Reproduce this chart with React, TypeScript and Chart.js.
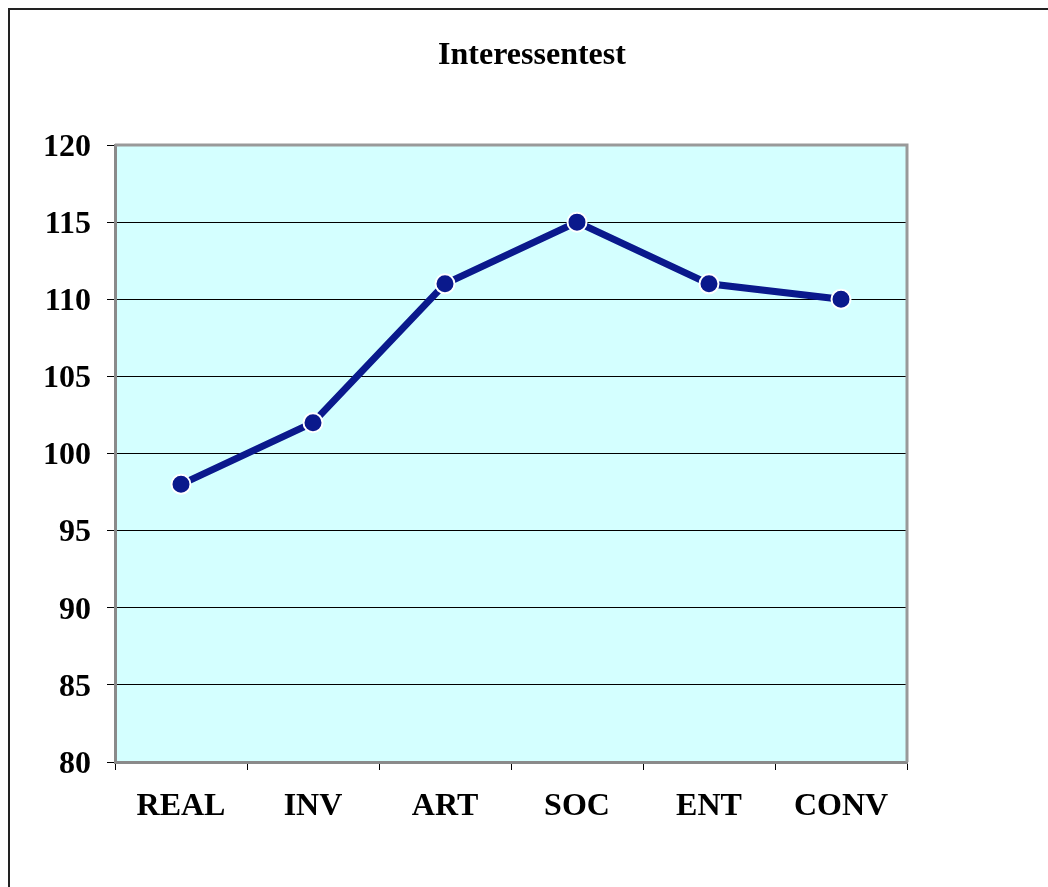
import React, { useEffect, useRef } from 'react';
import { Chart, registerables } from 'chart.js';

Chart.register(...registerables);

const categories = ['REAL', 'INV', 'ART', 'SOC', 'ENT', 'CONV'];
const values = [98, 102, 111, 115, 111, 110];
const yTickValues = [80, 85, 90, 95, 100, 105, 110, 115, 120];
const chartTitle = 'Interessentest';

const FONT = "'Liberation Serif', 'Times New Roman', serif";

export default function App() {
  const ref = useRef<HTMLCanvasElement>(null);

  useEffect(() => {
    const canvas = ref.current;
    if (!canvas) return;

    const plotArea = {
      id: 'plotArea',
      beforeDraw(chart: any) {
        const { ctx, chartArea: a } = chart;
        ctx.save();
        ctx.fillStyle = '#D4FFFF';
        ctx.fillRect(a.left, a.top, a.right - a.left, a.bottom - a.top);
        ctx.restore();
      },
      beforeDatasetsDraw(chart: any) {
        const { ctx, chartArea: a } = chart;
        ctx.save();
        ctx.strokeStyle = '#999999';
        ctx.lineWidth = 3;
        ctx.beginPath();
        ctx.moveTo(a.left, a.top);
        ctx.lineTo(a.right, a.top);
        ctx.lineTo(a.right, a.bottom);
        ctx.stroke();
        ctx.restore();
      },
    };

    const chart = new Chart(canvas, {
      type: 'line',
      data: {
        labels: categories,
        datasets: [
          {
            data: values,
            borderColor: '#0A198C',
            backgroundColor: '#0A198C',
            borderWidth: 7,
            pointRadius: 9.5,
            pointHoverRadius: 9.5,
            pointBorderColor: '#FFFFFF',
            pointBorderWidth: 2,
            pointBackgroundColor: '#0A198C',
            tension: 0,
            yAxisID: 'y',
          },
        ],
      },
      options: {
        responsive: false,
        animation: false,
        layout: { padding: { left: 8, right: 0, top: 0, bottom: 0 } },
        plugins: {
          legend: { display: false },
          tooltip: { enabled: false },
          title: {
            display: true,
            text: chartTitle,
            color: '#000000',
            font: { family: FONT, size: 32, weight: 'bold', lineHeight: 1.2 },
            padding: { top: 28.5, bottom: 70.1 },
          },
        },
        scales: {
          x: {
            type: 'category',
            offset: true,
            grid: {
              display: true,
              drawOnChartArea: false,
              offset: true,
              tickLength: 8,
              tickColor: '#000000',
              color: '#000000',
            },
            border: { display: true, color: '#8A8A8A', width: 3 },
            ticks: {
              color: '#000000',
              font: { family: FONT, size: 32, weight: 'bold' },
              padding: 18,
              maxRotation: 0,
              autoSkip: false,
            },
            afterFit: (s: any) => {
              s.height = 125;
            },
          },
          y: {
            type: 'linear',
            position: 'left',
            min: 80,
            max: 120,
            afterBuildTicks: (s: any) => {
              s.ticks = yTickValues.map((v) => ({ value: v }));
            },
            grid: {
              display: true,
              color: '#000000',
              lineWidth: 1,
              tickLength: 8,
              tickColor: '#000000',
            },
            border: { display: true, color: '#8A8A8A', width: 3 },
            ticks: {
              color: '#000000',
              font: { family: FONT, size: 32, weight: 'bold' },
              padding: 16,
              labelOffset: 2.5,
            },
            afterFit: (s: any) => {
              s.width = 99;
            },
          },
          yRight: {
            type: 'linear',
            position: 'right',
            display: true,
            grid: { display: false, drawOnChartArea: false },
            border: { display: false },
            ticks: { display: false },
            afterFit: (s: any) => {
              s.width = 141;
            },
          },
        },
      },
      plugins: [plotArea],
    } as any);

    return () => chart.destroy();
  }, []);

  return (
    <div style={{ position: 'relative', width: 1040, height: 879 }}>
      <canvas
        ref={ref}
        width={1040}
        height={879}
        style={{ position: 'absolute', left: 0, top: 0, width: 1040, height: 879 }}
      />
      <div
        style={{
          position: 'fixed',
          left: 8,
          top: 8,
          width: 1200,
          height: 1000,
          borderLeft: '2px solid #222',
          borderTop: '2px solid #222',
          pointerEvents: 'none',
        }}
      />
    </div>
  );
}
